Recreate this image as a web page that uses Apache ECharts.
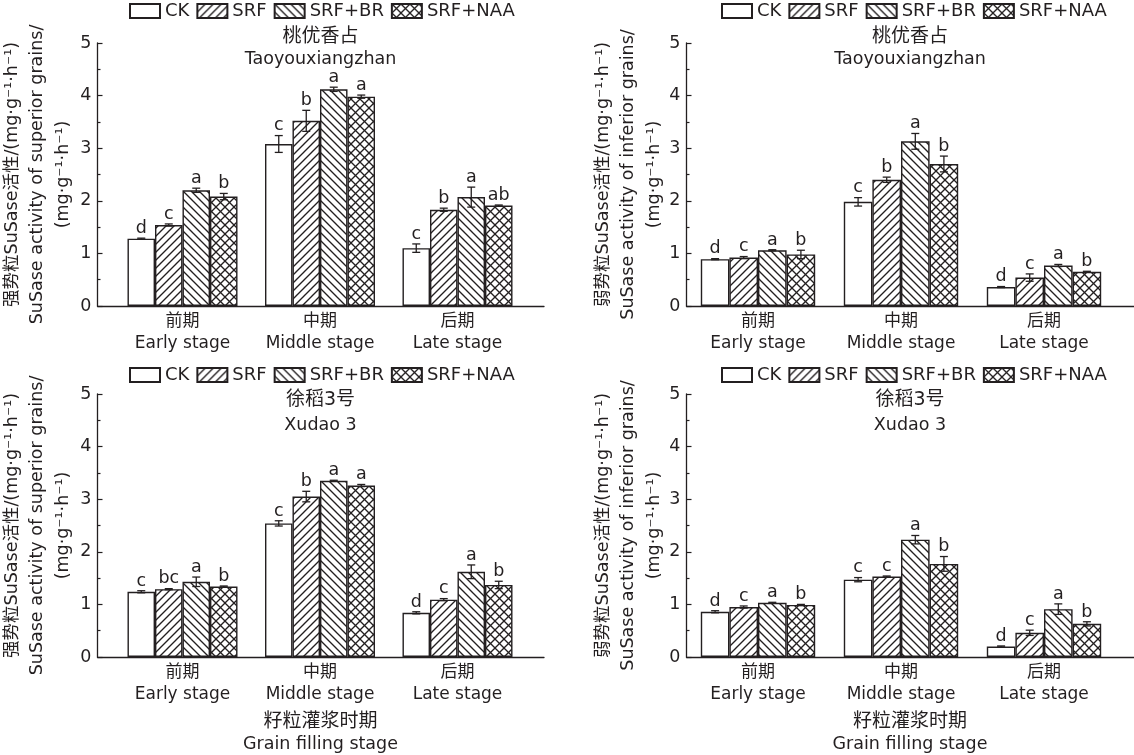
<!DOCTYPE html>
<html><head><meta charset="utf-8">
<script src="https://cdn.jsdelivr.net/npm/echarts@6/dist/echarts.min.js"></script>
<style>html,body{margin:0;padding:0;background:#fff}#c{width:1134px;height:755px}</style>
</head><body><div id="c"></div><script>
// ---------- data ----------
const categories = ['前期\nEarly stage', '中期\nMiddle stage', '后期\nLate stage'];
const treatments = ['CK', 'SRF', 'SRF+BR', 'SRF+NAA'];
const yTicks = [0, 1, 2, 3, 4, 5];

// superior grains, Taoyouxiangzhan (rows: CK, SRF, SRF+BR, SRF+NAA; cols: early, middle, late)
const supTaoMean = [[1.28, 3.08, 1.10], [1.54, 3.52, 1.83], [2.20, 4.12, 2.07], [2.08, 3.98, 1.91]];
const supTaoErr  = [[0.01, 0.16, 0.08], [0.02, 0.20, 0.03], [0.04, 0.04, 0.19], [0.06, 0.03, 0.01]];
const supTaoSig  = [['d', 'c', 'c'], ['c', 'b', 'b'], ['a', 'a', 'a'], ['b', 'a', 'ab']];
// inferior grains, Taoyouxiangzhan
const infTaoMean = [[0.89, 1.98, 0.36], [0.92, 2.40, 0.54], [1.06, 3.13, 0.77], [0.98, 2.70, 0.65]];
const infTaoErr  = [[0.01, 0.08, 0.01], [0.02, 0.05, 0.07], [0.01, 0.15, 0.02], [0.08, 0.15, 0.01]];
const infTaoSig  = [['d', 'c', 'd'], ['c', 'b', 'c'], ['a', 'a', 'a'], ['b', 'b', 'b']];
// superior grains, Xudao 3
const supXuMean = [[1.24, 2.54, 0.84], [1.29, 3.05, 1.09], [1.43, 3.35, 1.62], [1.34, 3.26, 1.37]];
const supXuErr  = [[0.02, 0.05, 0.02], [0.01, 0.10, 0.02], [0.09, 0.01, 0.13], [0.01, 0.02, 0.07]];
const supXuSig  = [['c', 'c', 'd'], ['bc', 'b', 'c'], ['a', 'a', 'a'], ['b', 'a', 'b']];
// inferior grains, Xudao 3
const infXuMean = [[0.86, 1.47, 0.20], [0.95, 1.53, 0.46], [1.03, 2.23, 0.91], [0.99, 1.77, 0.63]];
const infXuErr  = [[0.02, 0.04, 0.01], [0.02, 0.01, 0.05], [0.01, 0.08, 0.10], [0.01, 0.14, 0.04]];
const infXuSig  = [['d', 'c', 'd'], ['c', 'c', 'c'], ['a', 'a', 'a'], ['b', 'b', 'b']];

const cultivarTao = ['桃优香占', 'Taoyouxiangzhan'];
const cultivarXu = ['徐稻3号', 'Xudao 3'];
const yTitleSup = ['强势粒SuSase活性/(mg·g⁻¹·h⁻¹)', 'SuSase activity of superior grains/', '(mg·g⁻¹·h⁻¹)'];
const yTitleInf = ['弱势粒SuSase活性/(mg·g⁻¹·h⁻¹)', 'SuSase activity of inferior grains/', '(mg·g⁻¹·h⁻¹)'];
const xTitle = ['籽粒灌浆时期', 'Grain filling stage'];

// ---------- styling / layout ----------
const INK = '#231f20';
const FAM = "'DejaVu Sans', 'Noto Sans CJK SC', sans-serif";
const font = (s) => s + 'px ' + FAM;

function makePattern(kind) {
  const s = kind === 'cross' ? 9 : 8;
  const c = document.createElement('canvas');
  c.width = s; c.height = s;
  const g = c.getContext('2d');
  g.fillStyle = '#fff'; g.fillRect(0, 0, s, s);
  g.strokeStyle = INK; g.lineWidth = 1.35;
  const fwd = () => { g.beginPath(); g.moveTo(0, s); g.lineTo(s, 0); g.moveTo(-1, 1); g.lineTo(1, -1); g.moveTo(s - 1, s + 1); g.lineTo(s + 1, s - 1); g.stroke(); };
  const back = () => { g.beginPath(); g.moveTo(0, 0); g.lineTo(s, s); g.moveTo(-1, s - 1); g.lineTo(1, s + 1); g.moveTo(s - 1, -1); g.lineTo(s + 1, 1); g.stroke(); };
  if (kind === 'fwd') fwd();
  if (kind === 'back') back();
  if (kind === 'cross') { fwd(); back(); }
  return { image: c, repeat: 'repeat' };
}
const fills = ['#ffffff', makePattern('fwd'), makePattern('back'), makePattern('cross')];

const panels = [
  { mean: supTaoMean, err: supTaoErr, sig: supTaoSig, cult: cultivarTao, yt: yTitleSup, xt: false,
    axL: 97.5, axR: 1134 - 544, top: 43, barL: 113.75, barR: 1134 - 526.25, legL: 129, legTop: 2,
    ytX: [12, 37, 63], cx: 320.5, cy: [37, 59.5] },
  { mean: infTaoMean, err: infTaoErr, sig: infTaoSig, cult: cultivarTao, yt: yTitleInf, xt: false,
    axL: 686.5, axR: 0, top: 43, barL: 686.5, barR: 1134 - 1115.5, legL: 721, legTop: 2,
    ytX: [603, 628, 654], cx: 910, cy: [37, 59.5] },
  { mean: supXuMean, err: supXuErr, sig: supXuSig, cult: cultivarXu, yt: yTitleSup, xt: true,
    axL: 97.5, axR: 1134 - 544, top: 394, barL: 113.75, barR: 1134 - 526.25, legL: 129, legTop: 366,
    ytX: [12, 37, 63], cx: 320.5, cy: [400, 425] },
  { mean: infXuMean, err: infXuErr, sig: infXuSig, cult: cultivarXu, yt: yTitleInf, xt: true,
    axL: 686.5, axR: 0, top: 394, barL: 686.5, barR: 1134 - 1115.5, legL: 721, legTop: 366,
    ytX: [603, 628, 654], cx: 910, cy: [400, 425] }
];
const H = 263;

const grid = [], xAxis = [], yAxis = [], series = [], legend = [], graphic = [];

panels.forEach((p, pi) => {
  const gBar = grid.length;
  grid.push({ left: p.barL, right: p.barR, top: p.top, height: H });
  const gAx = grid.length;
  grid.push({ left: p.axL, right: p.axR, top: p.top, height: H });

  // bar grid axes
  xAxis.push({ type: 'category', gridIndex: gBar, data: categories,
    axisLine: { show: false }, axisTick: { show: false },
    axisLabel: { margin: 5, fontSize: 17, lineHeight: 22, color: INK, fontFamily: FAM, interval: 0 } });
  yAxis.push({ type: 'value', gridIndex: gBar, min: yTicks[0], max: yTicks[yTicks.length - 1], show: false });
  // frame axes
  xAxis.push({ type: 'value', gridIndex: gAx, min: 0, max: 1,
    axisLine: { show: true, lineStyle: { color: INK, width: 1.3 } },
    axisTick: { show: false }, axisLabel: { show: false }, splitLine: { show: false } });
  yAxis.push({ type: 'value', gridIndex: gAx, min: yTicks[0], max: yTicks[yTicks.length - 1], interval: 1,
    axisLine: { show: true, lineStyle: { color: INK, width: 1.3 } },
    axisTick: { show: true, inside: true, length: 5, lineStyle: { color: INK, width: 1.2 } },
    minorTick: { show: true, splitNumber: 2, length: 3, lineStyle: { color: INK, width: 1.2 } },
    axisLabel: { margin: 6, fontSize: 17.5, color: INK, fontFamily: FAM },
    splitLine: { show: false }, minorSplitLine: { show: false } });

  const xi = xAxis.length - 2, yi = yAxis.length - 2;

  treatments.forEach((t, ti) => {
    series.push({ type: 'bar', name: t, xAxisIndex: xi, yAxisIndex: yi,
      data: p.mean[ti], barGap: 0, barCategoryGap: '20%',
      itemStyle: { color: fills[ti], borderColor: INK, borderWidth: 1.4 },
      emphasis: { disabled: true }, animation: false, z: 2 });
    const sig = p.sig[ti];
    series.push({ type: 'custom', name: t + '-err', xAxisIndex: xi, yAxisIndex: yi, z: 5, animation: false,
      data: p.mean[ti].map((m, ci) => [ci, m, p.err[ti][ci]]),
      encode: { x: 0, y: 1 },
      renderItem: (params, api) => {
        const ci = api.value(0), m = api.value(1), e = api.value(2);
        const band = api.size([1, 0])[0];
        const bw = band * 0.2;
        const cx = api.coord([ci, 0])[0] + (ti - 1.5) * bw;
        const yT = api.coord([ci, m + e])[1];
        const yB = api.coord([ci, m - e])[1];
        const cap = 4;
        const ls = { stroke: INK, lineWidth: 1.3 };
        return { type: 'group', children: [
          { type: 'line', shape: { x1: cx, y1: yT, x2: cx, y2: yB }, style: ls },
          { type: 'line', shape: { x1: cx - cap, y1: yT, x2: cx + cap, y2: yT }, style: ls },
          { type: 'line', shape: { x1: cx - cap, y1: yB, x2: cx + cap, y2: yB }, style: ls },
          { type: 'text', style: { text: sig[params.dataIndex], x: cx, y: yT - 1,
              align: 'center', verticalAlign: 'bottom', textAlign: 'center', textVerticalAlign: 'bottom',
              font: font(17.5), fill: INK } }
        ] };
      } });
  });

  legend.push({ data: treatments, left: p.legL, top: p.legTop, padding: 0, icon: 'rect', itemWidth: 30, itemHeight: 14,
    itemGap: 7, selectedMode: false, textStyle: { fontSize: 18, color: INK, fontFamily: FAM } });

  // cultivar title
  p.cult.forEach((txt, k) => {
    graphic.push({ type: 'text', x: p.cx, y: p.cy[k], style: { text: txt, align: 'center', verticalAlign: 'middle',
      font: font(k === 0 ? 19 : 17.5), fill: INK } });
  });
  // y axis title (rotated)
  p.yt.forEach((txt, k) => {
    graphic.push({ type: 'text', x: p.ytX[k], y: p.top + H / 2, rotation: Math.PI / 2,
      style: { text: txt, align: 'center', verticalAlign: 'middle', font: font(17.5), fill: INK } });
  });
  if (p.xt) {
    xTitle.forEach((txt, k) => {
      graphic.push({ type: 'text', x: p.cx, y: k === 0 ? 722 : 744, style: { text: txt, align: 'center', verticalAlign: 'middle',
        font: font(k === 0 ? 19 : 17.5), fill: INK } });
    });
  }
});

const chart = echarts.init(document.getElementById('c'), null, { renderer: 'canvas' });
chart.setOption({ animation: false, backgroundColor: '#fff', grid, xAxis, yAxis, series, legend, graphic });
</script></body></html>
